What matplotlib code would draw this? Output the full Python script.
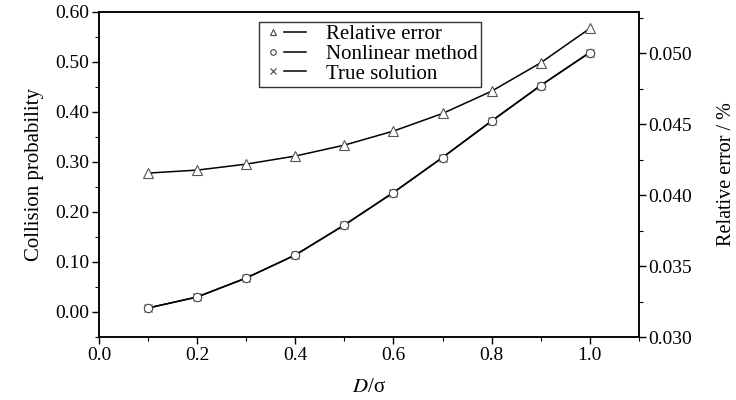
#!/usr/bin/env python3

# plot.py - collision probability vs D/sigma with relative error on a twin axis

import matplotlib
matplotlib.use("Agg")
import matplotlib.pyplot as plt
from matplotlib.lines import Line2D
from matplotlib.legend_handler import HandlerTuple
from matplotlib.ticker import MultipleLocator, FormatStrFormatter

# Data
d_sigma = [0.1, 0.2, 0.3, 0.4, 0.5, 0.6, 0.7, 0.8, 0.9, 1.0]
nonlinear = [0.008, 0.030, 0.068, 0.114, 0.174, 0.239, 0.309, 0.382, 0.453, 0.519]
true_solution = [0.008, 0.030, 0.068, 0.114, 0.174, 0.239, 0.309, 0.382, 0.453, 0.519]
relative_error = [0.04155, 0.04176, 0.04218, 0.04275, 0.04352,
                  0.04451, 0.04575, 0.04732, 0.04932, 0.05174]

plt.rcParams["font.family"] = ["Liberation Serif", "DejaVu Serif"]
plt.rcParams["mathtext.fontset"] = "stix"

fig = plt.figure(figsize=(7.36, 4.0), dpi=100)
ax = fig.add_axes([0.1345, 0.1575, 0.7335, 0.8125])
ax2 = ax.twinx()

# Left axis: collision probability
ax.plot(d_sigma, true_solution, color="black", lw=1.1, marker="x",
        ms=6, mew=0.8, mec="#444444", zorder=3)
ax.plot(d_sigma, nonlinear, color="black", lw=1.1, marker="o",
        ms=6, mfc="white", mec="#444444", mew=0.8, zorder=4)

# Right axis: relative error
ax2.plot(d_sigma, relative_error, color="black", lw=1.1, marker="^",
         ms=7, mfc="white", mec="#555555", mew=0.8)

ax.set_xlim(0.0, 1.1)
ax.set_ylim(-0.05, 0.60)
ax2.set_ylim(0.030, 0.0529)

ax.xaxis.set_major_locator(MultipleLocator(0.2))
ax.xaxis.set_minor_locator(MultipleLocator(0.1))
ax.xaxis.set_major_formatter(FormatStrFormatter("%.1f"))
ax.yaxis.set_major_locator(MultipleLocator(0.1))
ax.yaxis.set_minor_locator(MultipleLocator(0.05))
ax.yaxis.set_major_formatter(FormatStrFormatter("%.2f"))
ax2.yaxis.set_major_locator(MultipleLocator(0.005))
ax2.yaxis.set_minor_locator(MultipleLocator(0.0025))
ax2.yaxis.set_major_formatter(FormatStrFormatter("%.3f"))

for a in (ax, ax2):
    a.tick_params(which="major", direction="out", length=5, width=1.0,
                  labelsize=14, pad=2)
    a.tick_params(which="minor", direction="out", length=3, width=0.8)
    for s in a.spines.values():
        s.set_linewidth(1.1)
ax.tick_params(axis="x", which="both", top=False)
ax.tick_params(axis="y", which="both", right=False)

ax.set_ylabel("Collision probability", fontsize=15, labelpad=8)
ax2.set_ylabel("Relative error / %", fontsize=14.5, labelpad=18)
ax.set_xlabel(r"$D$/σ", fontsize=15, labelpad=10)

# Legend: marker to the left of a short line
mk = dict(ls="none", mfc="white", mec="#444444", mew=0.8)
ln = dict(color="black", lw=1.1)
handles = [
    (Line2D([], [], marker="^", ms=5, **mk), Line2D([], [], **ln)),
    (Line2D([], [], marker="o", ms=4, **mk), Line2D([], [], **ln)),
    (Line2D([], [], marker="x", ms=5, ls="none", mec="#444444", mew=0.8),
     Line2D([], [], **ln)),
]
labels = ["Relative error", "Nonlinear method", "True solution"]
leg = ax.legend(handles, labels,
                handler_map={tuple: HandlerTuple(ndivide=None, pad=0)},
                loc="upper left", bbox_to_anchor=(0.297, 0.97), borderaxespad=0,
                fontsize=15, frameon=True, fancybox=False, edgecolor="black",
                handlelength=2.1, handletextpad=0.95, labelspacing=0.0,
                borderpad=0.15)
leg.get_frame().set_linewidth(1.0)
leg.set_zorder(10)

fig.savefig("out.png", dpi=100)
